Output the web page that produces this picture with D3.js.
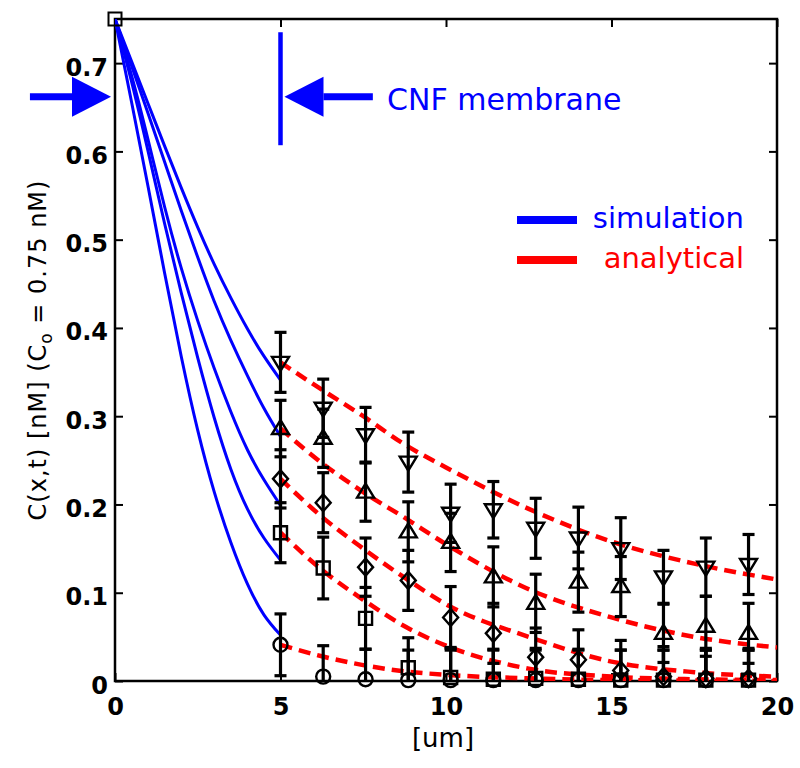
<!DOCTYPE html>
<html>
<head>
<meta charset="utf-8">
<script src="https://cdn.jsdelivr.net/npm/d3@7"></script>
<style>
  html, body { margin: 0; padding: 0; background: #fff; }
  svg { display: block; }
</style>
</head>
<body>
<svg id="chart" width="800" height="768"></svg>
<script>
// ---------------- DATA ----------------
const xTickValues = [0, 5, 10, 15, 20];
const xTickLabels = ["0", "5", "10", "15", "20"];
const yTickValues = [0, 0.1, 0.2, 0.3, 0.4, 0.5, 0.6, 0.7];
const yTickLabels = ["0", "0.1", "0.2", "0.3", "0.4", "0.5", "0.6", "0.7"];

// simulation curves (inside membrane, 0..5 um)
const simX = [0, 0.5, 1, 1.5, 2, 2.5, 3, 3.5, 4, 4.5, 5];
const simCircle   = [0.75, 0.656, 0.560, 0.462, 0.368, 0.284, 0.214, 0.157, 0.110, 0.075, 0.052];
const simSquare   = [0.75, 0.679, 0.600, 0.518, 0.440, 0.366, 0.298, 0.240, 0.195, 0.162, 0.137];
const simDiamond  = [0.75, 0.686, 0.613, 0.537, 0.468, 0.408, 0.354, 0.305, 0.262, 0.228, 0.199];
const simTriUp    = [0.75, 0.697, 0.643, 0.588, 0.533, 0.480, 0.430, 0.386, 0.346, 0.309, 0.277];
const simTriDown  = [0.75, 0.702, 0.654, 0.606, 0.559, 0.514, 0.472, 0.434, 0.399, 0.368, 0.341];

// analytical curves (outside, 5..20 um)
const anaX = [5, 6.25, 7.5, 8.75, 10, 12.5, 15, 17.5, 20];
const anaTriDown = [0.361, 0.330, 0.300, 0.268, 0.242, 0.195, 0.158, 0.133, 0.115];
const anaTriUp   = [0.286, 0.247, 0.214, 0.185, 0.155, 0.104, 0.072, 0.050, 0.038];
const anaDiamond = [0.229, 0.186, 0.150, 0.117, 0.087, 0.050, 0.022, 0.010, 0.005];
const anaSquare  = [0.168, 0.126, 0.092, 0.062, 0.040, 0.014, 0.005, 0.002, 0.001];
const anaCircle  = [0.041, 0.028, 0.018, 0.011, 0.007, 0.003, 0.001, 0.0005, 0.0];

// measured points with error bars
const ptX = [5, 6.29, 7.57, 8.86, 10.14, 11.43, 12.71, 14.0, 15.28, 16.57, 17.85, 19.14];
const ptTriDown = [0.361, 0.309, 0.279, 0.248, 0.190, 0.194, 0.173, 0.162, 0.150, 0.118, 0.129, 0.132];
const ptTriUp   = [0.286, 0.275, 0.214, 0.169, 0.157, 0.118, 0.088, 0.112, 0.107, 0.054, 0.062, 0.054];
const ptDiamond = [0.229, 0.202, 0.129, 0.114, 0.072, 0.054, 0.027, 0.024, 0.012, 0.005, 0.003, 0.003];
const ptSquare  = [0.168, 0.128, 0.071, 0.015, 0.004, 0.002, 0.003, 0.002, 0.001, 0.001, 0.001, 0.001];
const ptCircle  = [0.041, 0.005, 0.002, 0.001, 0.001, 0.001, 0.001, 0.001, 0.001, 0.001, 0.001, 0.001];
const errTriDown = [0.034, 0.033, 0.031, 0.034, 0.033, 0.032, 0.034, 0.035, 0.035, 0.030, 0.033, 0.034];
const errTriUp   = [0.032, 0.033, 0.033, 0.034, 0.033, 0.034, 0.033, 0.034, 0.034, 0.033, 0.034, 0.034];
const errDiamond = [0.033, 0.034, 0.033, 0.034, 0.035, 0.034, 0.033, 0.034, 0.034, 0.034, 0.034, 0.034];
const errSquare  = [0.034, 0.035, 0.035, 0.034, 0.034, 0.034, 0.034, 0.034, 0.034, 0.034, 0.034, 0.034];
const errCircle  = [0.035, 0.035, 0.034, 0.034, 0.034, 0.034, 0.034, 0.034, 0.034, 0.034, 0.034, 0.034];

// source point
const srcX = [0];
const srcY = [0.75];

// annotation (data units)
const membraneX = [5];
const membraneY = [0.607, 0.735];
const arrowY = [0.662];
const arrowInX = [-2.57, -0.12];   // from, tip
const arrowOutX = [7.79, 5.12];    // from, tip
const annoText = ["CNF membrane"];
const annoPos = [8.22, 0.647];
const legendLabels = ["simulation", "analytical"];

// ---------------- LAYOUT ----------------
const L = 115, R = 777, T = 19, B = 681;
const BLUE = "#0000ff", RED = "#ff0000";
const FONT = "'DejaVu Sans', Verdana, sans-serif";

const svg = d3.select("#chart");
const x = d3.scaleLinear().domain([0, 20]).range([L, R]);
const y = d3.scaleLinear().domain([0, 0.75]).range([B, T]);

svg.append("defs").append("clipPath").attr("id", "plotclip")
  .append("rect").attr("x", L).attr("y", T).attr("width", R - L).attr("height", B - T);

// axes
const axL = svg.append("g").attr("transform", `translate(${L},0)`)
  .call(d3.axisLeft(y).tickValues(yTickValues).tickFormat((d, i) => yTickLabels[i])
    .tickSizeInner(-8).tickSizeOuter(0).tickPadding(7));
const axB = svg.append("g").attr("transform", `translate(0,${B})`)
  .call(d3.axisBottom(x).tickValues(xTickValues).tickFormat((d, i) => xTickLabels[i])
    .tickSizeInner(-8).tickSizeOuter(0).tickPadding(17));
const axR = svg.append("g").attr("transform", `translate(${R},0)`)
  .call(d3.axisRight(y).tickValues(yTickValues).tickFormat("").tickSizeInner(-8).tickSizeOuter(0));
const axT = svg.append("g").attr("transform", `translate(0,${T})`)
  .call(d3.axisTop(x).tickValues(xTickValues).tickFormat("").tickSizeInner(-8).tickSizeOuter(0));
[axL, axB, axR, axT].forEach(g => {
  g.select(".domain").remove();
  g.selectAll(".tick line").attr("stroke", "#000").attr("stroke-width", 2);
  g.selectAll(".tick text").attr("font-family", FONT).attr("font-size", 24)
    .attr("font-weight", "bold").attr("fill", "#000");
});
axL.selectAll(".tick text").attr("dy", "0.5em");

// frame
svg.append("rect").attr("x", L).attr("y", T).attr("width", R - L).attr("height", B - T)
  .attr("fill", "none").attr("stroke", "#000").attr("stroke-width", 2.5);

// axis labels
const yl = svg.append("text").attr("transform", "translate(46,350) rotate(-90)")
  .attr("text-anchor", "middle").attr("font-family", FONT).attr("font-size", 24)
  .attr("letter-spacing", 1).attr("fill", "#000");
yl.append("tspan").text("C(x,t) [nM] (C");
yl.append("tspan").attr("font-size", 17).attr("dy", 6).text("o");
yl.append("tspan").attr("dy", -6).text(" = 0.75 nM)");

svg.append("text").attr("x", (L + R) / 2 - 3).attr("y", 747).attr("text-anchor", "middle")
  .attr("font-family", FONT).attr("font-size", 26).attr("fill", "#000").text("[um]");

const plot = svg.append("g").attr("clip-path", "url(#plotclip)");

// simulation curves
const simLine = d3.line().x(d => x(d[0])).y(d => y(d[1])).curve(d3.curveNatural);
[simCircle, simSquare, simDiamond, simTriUp, simTriDown].forEach(s => {
  plot.append("path").attr("d", simLine(simX.map((v, i) => [v, s[i]])))
    .attr("fill", "none").attr("stroke", BLUE).attr("stroke-width", 3);
});

// analytical curves
const anaLine = d3.line().x(d => x(d[0])).y(d => y(d[1])).curve(d3.curveMonotoneX);
[anaTriDown, anaTriUp, anaDiamond, anaSquare, anaCircle].forEach(s => {
  plot.append("path").attr("d", anaLine(anaX.map((v, i) => [v, s[i]])))
    .attr("fill", "none").attr("stroke", RED).attr("stroke-width", 4.5)
    .attr("stroke-dasharray", "12,7");
});

// error bars
const series = [
  { v: ptTriDown, e: errTriDown, m: "tridown" },
  { v: ptTriUp, e: errTriUp, m: "triup" },
  { v: ptDiamond, e: errDiamond, m: "diamond" },
  { v: ptSquare, e: errSquare, m: "square" },
  { v: ptCircle, e: errCircle, m: "circle" }
];
series.forEach(s => {
  const g = plot.append("g").attr("stroke", "#000").attr("stroke-width", 3.2);
  s.v.forEach((v, i) => {
    const cx = x(ptX[i]), y1 = y(v + s.e[i]), y0 = y(v - s.e[i]);
    g.append("line").attr("x1", cx).attr("x2", cx).attr("y1", y1).attr("y2", y0);
    g.append("line").attr("x1", cx - 6).attr("x2", cx + 6).attr("y1", y1).attr("y2", y1);
    g.append("line").attr("x1", cx - 6).attr("x2", cx + 6).attr("y1", y0).attr("y2", y0);
  });
});

// markers
function markerPath(type, cx, cy) {
  switch (type) {
    case "tridown": return `M${cx-8.5},${cy-5.5}L${cx+8.5},${cy-5.5}L${cx},${cy+8.5}Z`;
    case "triup": return `M${cx-8.5},${cy+5.5}L${cx+8.5},${cy+5.5}L${cx},${cy-8.5}Z`;
    case "diamond": return `M${cx},${cy-8.5}L${cx+7.5},${cy}L${cx},${cy+8.5}L${cx-7.5},${cy}Z`;
    case "square": return `M${cx-6.5},${cy-6.5}h13v13h-13Z`;
    case "circle": return `M${cx+7},${cy}A7,7 0 1,1 ${cx-7},${cy}A7,7 0 1,1 ${cx+7},${cy}Z`;
  }
}
series.forEach(s => {
  svg.append("g").selectAll("path").data(s.v).join("path")
    .attr("d", (v, i) => markerPath(s.m, x(ptX[i]), y(v)))
    .attr("fill", "none").attr("stroke", "#000").attr("stroke-width", 2.4);
});
svg.append("g").selectAll("path").data(srcY).join("path")
  .attr("d", (v, i) => markerPath("square", x(srcX[i]), y(v)))
  .attr("fill", "none").attr("stroke", "#000").attr("stroke-width", 2);

// annotation: membrane boundary and arrows
svg.append("line").attr("x1", x(membraneX[0])).attr("x2", x(membraneX[0]))
  .attr("y1", y(membraneY[0])).attr("y2", y(membraneY[1]))
  .attr("stroke", BLUE).attr("stroke-width", 4.5);
function arrow(fromX, tipX, yy) {
  const fx = x(fromX), tx = x(tipX), ay = y(yy);
  const dir = tx > fx ? 1 : -1;
  const hb = tx - dir * 39;
  svg.append("line").attr("x1", fx).attr("x2", hb).attr("y1", ay).attr("y2", ay)
    .attr("stroke", BLUE).attr("stroke-width", 7);
  svg.append("path").attr("d", `M${tx},${ay}L${hb},${ay-20}L${hb},${ay+20}Z`).attr("fill", BLUE);
}
arrow(arrowInX[0], arrowInX[1], arrowY[0]);
arrow(arrowOutX[0], arrowOutX[1], arrowY[0]);
svg.append("text").attr("x", x(annoPos[0])).attr("y", y(annoPos[1]))
  .attr("font-family", FONT).attr("font-size", 30).attr("fill", BLUE).text(annoText[0]);

// legend
const legend = svg.append("g");
[[BLUE, 220, 228], [RED, 260, 268]].forEach((c, i) => {
  legend.append("line").attr("x1", 517).attr("x2", 577).attr("y1", c[1]).attr("y2", c[1])
    .attr("stroke", c[0]).attr("stroke-width", 8);
  legend.append("text").attr("x", 744).attr("y", c[2]).attr("text-anchor", "end")
    .attr("font-family", FONT).attr("font-size", 29).attr("fill", c[0]).text(legendLabels[i]);
});
</script>
</body>
</html>
